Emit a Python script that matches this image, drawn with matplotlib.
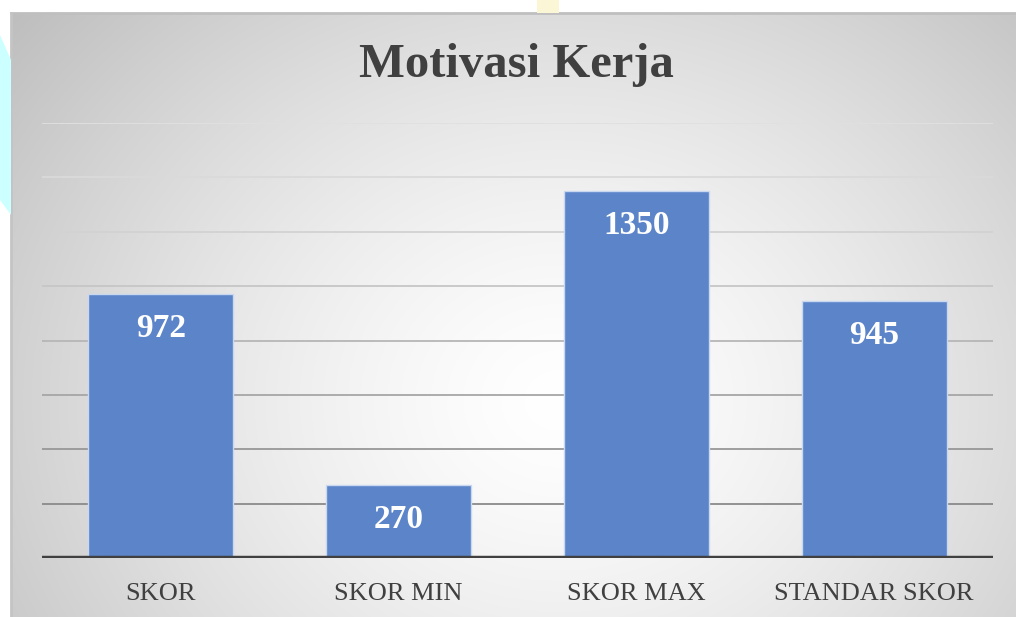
import numpy as np
import matplotlib
matplotlib.use("Agg")
import matplotlib.pyplot as plt
from matplotlib.patches import Polygon, Rectangle

categories = ["SKOR", "SKOR MIN", "SKOR MAX", "STANDAR SKOR"]
values = [972, 270, 1350, 945]
title = "Motivasi Kerja"
y_max = 1600
y_step = 200

W, H = 1016, 617
fig = plt.figure(figsize=(W / 100, H / 100), dpi=100)
fig.patch.set_facecolor("white")

# decorative page remnants
fig.patches.append(Polygon([[0, 1 - 35 / H], [11 / W, 1 - 60 / H], [11 / W, 1 - 215 / H], [0, 1 - 200 / H]],
                           closed=True, transform=fig.transFigure, facecolor="#ccffff", edgecolor="none", zorder=0))
fig.patches.append(Rectangle((537 / W, 1 - 13 / H), 22 / W, 13 / H, transform=fig.transFigure,
                             facecolor="#fbf7d6", edgecolor="none", zorder=0))

# chart frame background with radial gradient
x0, y0 = 11, 13
bg = fig.add_axes([x0 / W, 0, (W - x0) / W, (H - y0) / H])
yy, xx = np.mgrid[y0:H, x0:W]
cx, cy = 560, 400
r = np.sqrt(((xx - cx) / 1.0) ** 2 + ((yy - cy) / 0.85) ** 2)
R = 720.0
v = 1.0 - 0.26 * np.clip(r / R, 0, 1.2) ** 1.4
img = np.dstack([v, v, v])
bg.imshow(img, extent=[0, 1, 0, 1], aspect="auto", origin="upper", interpolation="bilinear")
bg.set_axis_off()
bg.plot([0, 1], [1, 1], transform=bg.transAxes, color="#bfbfbf", lw=2, clip_on=False)
bg.plot([0, 0], [0, 1], transform=bg.transAxes, color="#c4c4c4", lw=2, clip_on=False)

# plot area
left, right = 42, 993
top_px, base_px = 123, 558
ax = fig.add_axes([left / W, 1 - base_px / H, (right - left) / W, (base_px - top_px) / H])
ax.set_facecolor("none")
ax.set_xlim(-0.5, len(categories) - 0.5)
ax.set_ylim(0, y_max)

grid_levels = np.arange(y_step, y_max + 1, y_step)
grid_cols = ["#8a8a8a", "#979797", "#a6a6a6", "#b6b6b6", "#c6c6c6", "#d2d2d2", "#dadada", "#e0e0e0"]
for lvl, c in zip(grid_levels, grid_cols):
    ax.axhline(lvl, color=c, lw=1.3, zorder=1)

x = np.arange(len(categories))
bars = ax.bar(x, values, width=0.61, color="#5b84c9", edgecolor="#c9d7ef", linewidth=1.0, zorder=2)
ax.axhline(0, color="#404040", lw=3.2, zorder=3)

for xi, val in zip(x, values):
    ax.annotate(f"{val}", (xi, val), xytext=(0, -25), textcoords="offset points",
                ha="center", va="center", color="white", fontsize=24, fontweight="bold",
                family="Liberation Serif", zorder=4)

ax.set_xticks(x)
ax.set_xticklabels(categories, family="Liberation Serif", fontsize=19, color="#404040")
ax.tick_params(axis="x", length=0, pad=18)
ax.set_yticks([])
for s in ax.spines.values():
    s.set_visible(False)

fig.text(516 / W, 1 - 65 / H, title, ha="center", va="center", family="Liberation Serif",
         fontsize=35, fontweight="bold", color="#404040")

fig.savefig("out.png", dpi=100, facecolor="white")
